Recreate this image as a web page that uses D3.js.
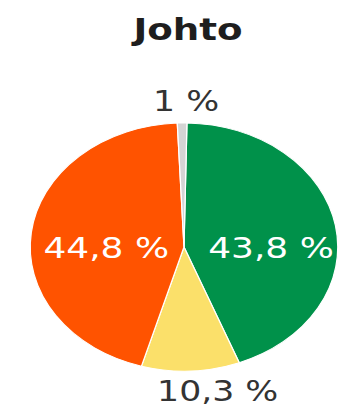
<!DOCTYPE html>
<html>
<head>
<meta charset="utf-8">
<script src="https://cdn.jsdelivr.net/npm/d3@7"></script>
<style>
  html, body { margin: 0; padding: 0; background: #fff; }
  svg { display: block; }
</style>
</head>
<body>
<div id="chart"></div>
<script>
const title = "Johto";
const categories = ["A", "B", "C", "D"];
const values = [43.8, 10.3, 44.8, 1.0];
const labels = ["43,8 %", "10,3 %", "44,8 %", "1 %"];
const colors = ["#00914a", "#fbe06a", "#ff5300", "#d4d4d4"];

const W = 338, H = 408;
const sx = 1.24;              // horizontal stretch of the original picture
const cx = 184 / sx, cy = 247, r = 124;

const svg = d3.select("#chart").append("svg")
  .attr("width", W).attr("height", H);

const g = svg.append("g").attr("transform", `scale(${sx},1)`);

g.append("text")
  .attr("x", 188 / sx).attr("y", 40)
  .attr("text-anchor", "middle")
  .attr("font-family", "DejaVu Sans")
  .attr("font-weight", "bold")
  .attr("font-size", 30)
  .attr("fill", "#1e1e1e")
  .text(title);

const data = categories.map((c, i) => ({ cat: c, value: values[i], label: labels[i], color: colors[i] }));

const start = 1.1 * Math.PI / 180;
const pie = d3.pie().sort(null).value(d => d.value)
  .startAngle(start).endAngle(start + 2 * Math.PI);
const arcs = pie(data);
const arc = d3.arc().innerRadius(0).outerRadius(r);
const inArc = d3.arc().innerRadius(r * 0.55).outerRadius(r * 0.55);

const pg = g.append("g").attr("transform", `translate(${cx},${cy})`);

pg.selectAll("path").data(arcs).join("path")
  .attr("d", arc)
  .attr("fill", d => d.data.color)
  .attr("stroke", "#fff")
  .attr("stroke-width", 1);

// inside labels for large slices, outside for small ones
pg.selectAll("text.lbl").data(arcs).join("text")
  .attr("class", "lbl")
  .attr("font-family", "DejaVu Sans")
  .attr("font-size", d => d.value > 20 ? 29 : 28)
  .attr("text-anchor", "middle")
  .attr("fill", d => d.value > 20 ? "#fff" : "#333")
  .attr("x", d => {
    if (d.value > 20) return inArc.centroid(d)[0] + (d.index === 2 ? 5 : 3);
    const mid = (d.startAngle + d.endAngle) / 2;
    return Math.sin(mid) * r + (d.index === 1 ? 27 / sx : 4 / sx);
  })
  .attr("y", d => {
    if (d.value > 20) return 11;
    const mid = (d.startAngle + d.endAngle) / 2;
    return -Math.cos(mid) * r + (Math.cos(mid) > 0 ? -12 : 30);
  })
  .text(d => d.data.label);
</script>
</body>
</html>
